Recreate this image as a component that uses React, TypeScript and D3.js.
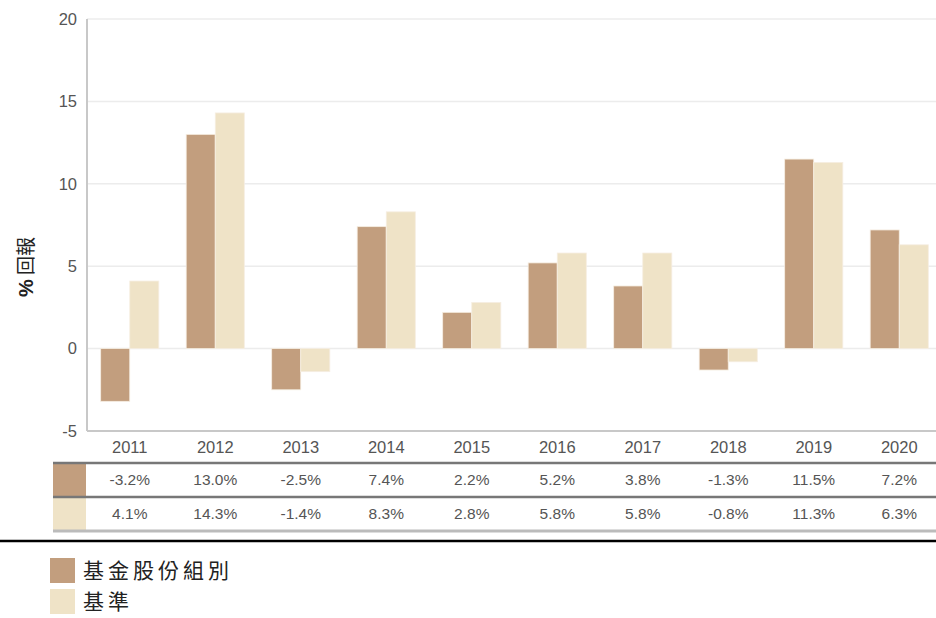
import * as d3 from "d3";
import React from "react";

const years = ["2011", "2012", "2013", "2014", "2015", "2016", "2017", "2018", "2019", "2020"];
const fundValues = [-3.2, 13.0, -2.5, 7.4, 2.2, 5.2, 3.8, -1.3, 11.5, 7.2];
const benchValues = [4.1, 14.3, -1.4, 8.3, 2.8, 5.8, 5.8, -0.8, 11.3, 6.3];
const seriesNames = ["基金股份組別", "基準"];
const yTicks = [-5, 0, 5, 10, 15, 20];

const colors = ["#C29E7E", "#EFE3C7"];
const font = "Arial, 'Liberation Sans', sans-serif";
const cjk = "'Noto Sans CJK TC', sans-serif";

const width = 936;
const height = 618;

const App: React.FC = () => {
  const left = 87;
  const right = 942;
  const top = 19;
  const bottom = 431;

  const x = d3.scaleBand<string>().domain(years).range([left, right]).padding(0);
  const inner = d3
    .scaleBand<number>()
    .domain([0, 1])
    .range([x.bandwidth() * 0.16, x.bandwidth() * 0.84])
    .padding(0);
  const y = d3.scaleLinear().domain([-5, 20]).range([bottom, top]);

  const series = [fundValues, benchValues];

  const tableTop = 463;
  const rowH = 34;

  return (
    <svg
      width={width}
      height={height}
      style={{ position: "absolute", left: 0, top: 0, background: "#fff" }}
      fontFamily={font}
    >
      {/* grid */}
      {yTicks.map((t) => (
        <line key={t} x1={left} x2={width} y1={y(t)} y2={y(t)} stroke="#ececec" strokeWidth={1.5} />
      ))}
      {/* y tick labels */}
      {yTicks.map((t) => (
        <text key={t} x={77} y={y(t)} dy="0.35em" textAnchor="end" fontSize={16.5} fill="#555">
          {t}
        </text>
      ))}
      {/* bars */}
      {series.map((vals, si) =>
        vals.map((v, i) => {
          const bx = (x(years[i]) ?? 0) + (inner(si) ?? 0);
          const y0 = y(Math.max(0, v));
          const y1 = y(Math.min(0, v));
          return (
            <rect
              key={`${si}-${i}`}
              x={bx}
              y={y0}
              width={inner.bandwidth()}
              height={y1 - y0}
              fill={colors[si]}
              stroke="#f6eee2"
              strokeWidth={0.8}
            />
          );
        })
      )}
      {/* axes */}
      <line x1={left} x2={left} y1={top} y2={bottom} stroke="#c8c8c8" strokeWidth={2} />
      <line x1={left} x2={width} y1={bottom} y2={bottom} stroke="#c8c8c8" strokeWidth={2} />
      {/* x labels */}
      {years.map((yr) => (
        <text
          key={yr}
          x={(x(yr) ?? 0) + x.bandwidth() / 2}
          y={447}
          dy="0.35em"
          textAnchor="middle"
          fontSize={16.5}
          fill="#555"
        >
          {yr}
        </text>
      ))}
      {/* y label */}
      <text
        transform="translate(26,267) rotate(-90)"
        textAnchor="middle"
        dy="0.35em"
        fontSize={20}
        fill="#222"
      >
        <tspan fontWeight="bold">%</tspan>
        <tspan fontFamily={cjk} fontSize={19}> 回報</tspan>
      </text>
      {/* data table */}
      {series.map((vals, si) => (
        <g key={si}>
          <rect x={53} y={tableTop + si * rowH} width={33} height={rowH} fill={colors[si]} />
          {vals.map((v, i) => (
            <text
              key={i}
              x={(x(years[i]) ?? 0) + x.bandwidth() / 2}
              y={tableTop + si * rowH + rowH / 2}
              dy="0.35em"
              textAnchor="middle"
              fontSize={15.5}
              fill="#555"
            >
              {`${v.toFixed(1)}%`}
            </text>
          ))}
        </g>
      ))}
      <line x1={53} x2={width} y1={tableTop} y2={tableTop} stroke="#777" strokeWidth={2.5} />
      <line x1={53} x2={width} y1={tableTop + rowH} y2={tableTop + rowH} stroke="#777" strokeWidth={2.5} />
      <line x1={53} x2={width} y1={tableTop + rowH * 2} y2={tableTop + rowH * 2} stroke="#bbb" strokeWidth={3} />
      {/* separator */}
      <line x1={0} x2={width} y1={541} y2={541} stroke="#000" strokeWidth={2.5} />
      {/* legend */}
      {seriesNames.map((name, i) => (
        <g key={name} transform={`translate(50,${558 + i * 31})`}>
          <rect width={25} height={25} fill={colors[i]} />
          <text x={33} y={12.5} dy="0.35em" fontSize={21} fill="#222" fontFamily={cjk} letterSpacing={4}>
            {name}
          </text>
        </g>
      ))}
    </svg>
  );
};

export default App;
